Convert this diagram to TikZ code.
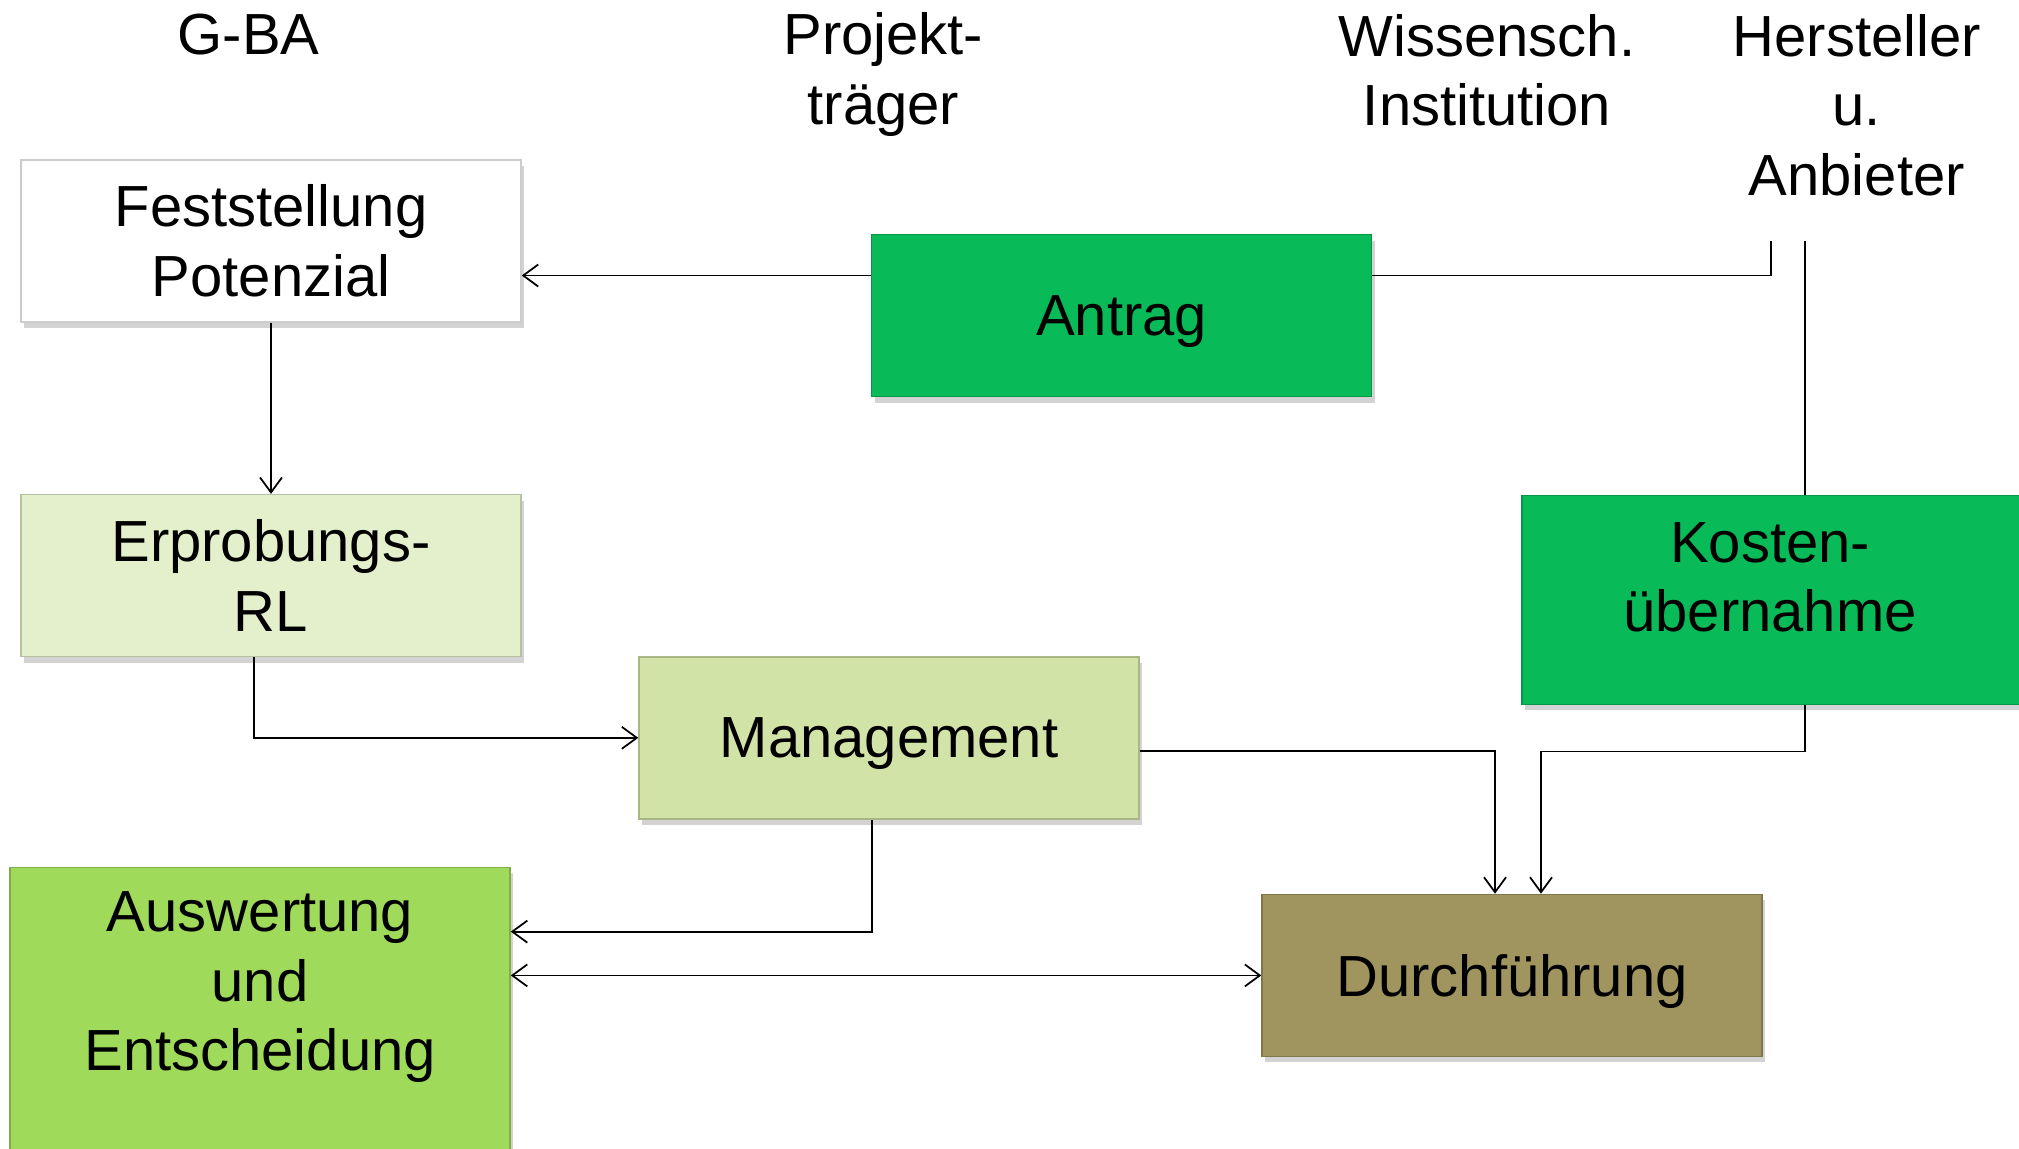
\documentclass[tikz,border=0pt]{standalone}
\usepackage{fontspec}
\setmainfont{Liberation Sans}
\usepackage{xcolor}
\usepackage{tikz}
\usetikzlibrary{arrows.meta,calc,positioning,shadows}

\definecolor{antraggreen}{RGB}{8,187,88}
\definecolor{erprgreen}{RGB}{228,240,204}
\definecolor{mgmtgreen}{RGB}{210,227,168}
\definecolor{auswgreen}{RGB}{159,218,90}
\definecolor{durchbrown}{RGB}{160,148,95}

\begin{document}
\begin{tikzpicture}[font=\fontsize{16.5}{19.8}\selectfont,
  box/.style={draw=#1!80!black,fill=#1,minimum width=5cm,minimum height=1.62cm,inner sep=0pt,align=center,drop shadow={shadow xshift=0.3mm,shadow yshift=-0.6mm,opacity=0.35}},
  head/.style={align=center,inner sep=0pt},
  conn/.style={line width=0.5pt,-{Straight Barb[length=1.5mm,width=2.2mm]}},
  both/.style={line width=0.5pt,{Straight Barb[length=1.5mm,width=2.2mm]}-{Straight Barb[length=1.5mm,width=2.2mm]}}]
  \useasboundingbox (0,0) rectangle (20.19,-11.48);

  \node[head] (gba) at (2.485,-0.348) {G-BA};
  \node[head] (proj) at (8.833,-0.742) {Projekt-\\träger};
  \node[head] (wiss) at (14.87,-0.702) {Wissensch.\\Institution};
  \node[head] (herst) at (18.567,-1.049) {Hersteller\\u.\\Anbieter};

  \node[box=white] (fest) at (2.71,-2.408) {Feststellung\\Potenzial};
  \node[box=antraggreen,text depth=0pt] (antrag) at (11.215,-3.155) {Antrag};
  \node[box=erprgreen] (erpr) at (2.71,-5.756) {Erprobungs-\\RL};
  \node[box=antraggreen,minimum height=2.086cm] (kosten) at (17.72,-6.0) {};
  \node[head] (kostentext) at (17.70,-5.775) {Kosten-\\übernahme};
  \node[box=mgmtgreen,text depth=0pt] (mgmt) at (8.89,-7.378) {Management};
  \node[box=auswgreen,minimum height=3cm,anchor=north] (ausw) at (2.601,-8.666) {};
  \node[head] (auswtext) at (2.601,-9.874) {Auswertung\\und\\Entscheidung};
  \node[box=durchbrown,text depth=0pt] (durch) at (15.12,-9.754) {Durchführung};

  \coordinate (a1) at ([yshift=4mm]antrag.west);
  \draw[conn] (a1) -- (a1 -| fest.east);
  \coordinate (h1) at (17.71,-2.41);
  \coordinate (h2) at (18.05,-2.41);
  \draw[line width=0.5pt] ([yshift=4mm]antrag.east) -| (h1);
  \draw[line width=0.5pt] (h2) -- (h2 |- kosten.north);
  \draw[conn] (fest.south) -- (erpr.north);
  \draw[conn] ([xshift=-1.7mm]erpr.south) |- (mgmt.west);
  \draw[conn] ([yshift=-1.3mm]mgmt.east) -| ([xshift=-1.7mm]durch.north);
  \draw[conn] (h2 |- kosten.south) -- ++(0,-0.464) -| ([xshift=2.9mm]durch.north);
  \draw[conn] ([xshift=-1.7mm]mgmt.south) |- ([yshift=8.57mm]ausw.east);
  \draw[both] (ausw.east |- durch.west) -- (durch.west);
\end{tikzpicture}
\end{document}
